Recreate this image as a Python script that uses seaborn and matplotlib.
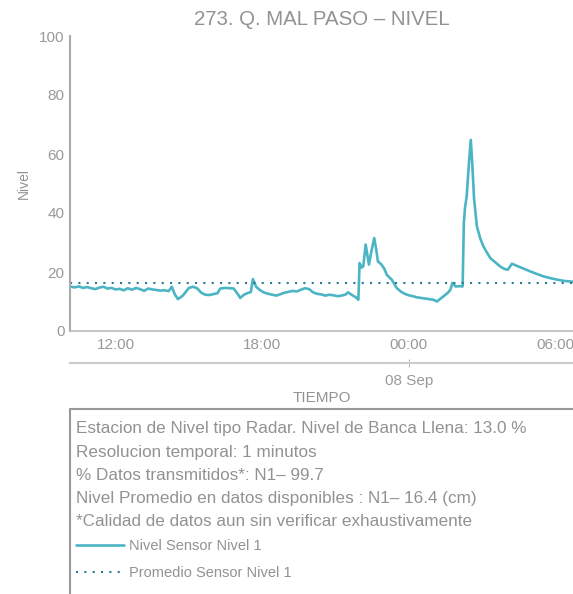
import pandas as pd
import seaborn as sns
import matplotlib.pyplot as plt
import matplotlib.dates as mdates
from matplotlib.patches import Rectangle

# Serie de nivel (hora local, sep 7 -> sep 8)
horas = [
    "2023-09-07 10:00", "2023-09-07 10:10", "2023-09-07 10:20", "2023-09-07 10:30", "2023-09-07 10:40",
    "2023-09-07 10:50", "2023-09-07 11:00", "2023-09-07 11:10", "2023-09-07 11:20", "2023-09-07 11:30",
    "2023-09-07 11:40", "2023-09-07 11:50", "2023-09-07 12:00", "2023-09-07 12:10", "2023-09-07 12:20",
    "2023-09-07 12:30", "2023-09-07 12:40", "2023-09-07 12:50", "2023-09-07 13:00", "2023-09-07 13:10",
    "2023-09-07 13:20", "2023-09-07 13:30", "2023-09-07 13:40", "2023-09-07 13:50", "2023-09-07 14:00",
    "2023-09-07 14:10", "2023-09-07 14:18", "2023-09-07 14:25", "2023-09-07 14:33", "2023-09-07 14:45",
    "2023-09-07 15:00", "2023-09-07 15:10", "2023-09-07 15:20", "2023-09-07 15:30", "2023-09-07 15:40",
    "2023-09-07 15:50", "2023-09-07 16:00", "2023-09-07 16:10", "2023-09-07 16:17", "2023-09-07 16:30",
    "2023-09-07 16:40", "2023-09-07 16:50", "2023-09-07 17:00", "2023-09-07 17:06", "2023-09-07 17:15",
    "2023-09-07 17:25", "2023-09-07 17:32", "2023-09-07 17:37", "2023-09-07 17:45", "2023-09-07 17:55",
    "2023-09-07 18:05", "2023-09-07 18:15", "2023-09-07 18:25", "2023-09-07 18:35", "2023-09-07 18:45",
    "2023-09-07 18:55", "2023-09-07 19:05", "2023-09-07 19:15", "2023-09-07 19:25", "2023-09-07 19:35",
    "2023-09-07 19:45", "2023-09-07 19:55", "2023-09-07 20:05", "2023-09-07 20:15", "2023-09-07 20:25",
    "2023-09-07 20:35", "2023-09-07 20:45", "2023-09-07 20:55", "2023-09-07 21:05", "2023-09-07 21:15",
    "2023-09-07 21:25", "2023-09-07 21:31", "2023-09-07 21:40", "2023-09-07 21:50", "2023-09-07 21:56",
    "2023-09-07 21:59", "2023-09-07 22:04", "2023-09-07 22:08", "2023-09-07 22:14", "2023-09-07 22:18",
    "2023-09-07 22:22", "2023-09-07 22:28", "2023-09-07 22:35", "2023-09-07 22:40", "2023-09-07 22:44",
    "2023-09-07 22:53", "2023-09-07 23:00", "2023-09-07 23:06", "2023-09-07 23:12", "2023-09-07 23:18",
    "2023-09-07 23:24", "2023-09-07 23:30", "2023-09-07 23:40", "2023-09-07 23:50", "2023-09-08 00:00",
    "2023-09-08 00:10", "2023-09-08 00:20", "2023-09-08 00:30", "2023-09-08 00:40", "2023-09-08 00:50",
    "2023-09-08 01:00", "2023-09-08 01:09", "2023-09-08 01:20", "2023-09-08 01:30", "2023-09-08 01:36",
    "2023-09-08 01:42", "2023-09-08 01:47", "2023-09-08 01:55", "2023-09-08 02:05", "2023-09-08 02:12",
    "2023-09-08 02:15", "2023-09-08 02:18", "2023-09-08 02:22", "2023-09-08 02:27", "2023-09-08 02:32",
    "2023-09-08 02:36", "2023-09-08 02:40", "2023-09-08 02:47", "2023-09-08 02:55", "2023-09-08 03:03",
    "2023-09-08 03:12", "2023-09-08 03:20", "2023-09-08 03:32", "2023-09-08 03:44", "2023-09-08 03:55",
    "2023-09-08 04:03", "2023-09-08 04:08", "2023-09-08 04:13", "2023-09-08 04:25", "2023-09-08 04:40",
    "2023-09-08 04:58", "2023-09-08 05:15", "2023-09-08 05:31", "2023-09-08 05:48", "2023-09-08 06:04",
    "2023-09-08 06:20", "2023-09-08 06:36", "2023-09-08 06:50",
]
nivel = [
    15.2, 15.0, 14.8, 15.1, 14.6,
    14.9, 14.5, 14.2, 14.7, 15.0,
    14.4, 14.6, 14.1, 14.3, 13.8,
    14.5, 14.0, 14.6, 14.2, 13.6,
    14.4, 14.1, 13.9, 13.7, 13.8,
    13.5, 15.0, 12.5, 10.8, 12.0,
    14.6, 15.0, 14.5, 13.0, 12.3,
    12.2, 12.5, 12.8, 14.4, 14.6,
    14.5, 14.4, 12.5, 11.2, 12.3,
    12.9, 13.2, 17.6, 15.0, 13.8,
    13.0, 12.6, 12.3, 12.0, 12.5,
    13.0, 13.3, 13.6, 13.4, 14.0,
    14.5, 14.2, 13.1, 12.6, 12.4,
    12.0, 12.3, 12.1, 11.8, 12.0,
    12.4, 13.1, 12.2, 11.4, 10.6,
    23.0, 21.5, 21.9, 29.3, 26.0,
    22.5, 27.0, 31.5, 27.5, 23.6,
    22.5, 21.0, 19.0, 18.2, 17.4,
    16.0, 14.6, 13.4, 12.6, 12.1,
    11.8, 11.4, 11.2, 11.0, 10.8,
    10.6, 10.0, 11.2, 12.3, 13.0,
    14.0, 16.3, 15.1, 15.2, 15.1,
    36.7, 42.0, 45.6, 56.0, 64.8,
    56.0, 45.0, 35.5, 31.5, 28.7,
    26.5, 24.7, 23.3, 21.9, 21.0,
    20.8, 21.8, 22.8, 22.1, 21.2,
    20.2, 19.3, 18.5, 17.9, 17.4,
    17.0, 16.8, 16.6,
]
promedio = 16.4

df = pd.DataFrame({"TIEMPO": pd.to_datetime(horas), "Nivel": nivel})

gris = "#929292"
teal = "#4bb5c4"

sns.set_style("white")
plt.rcParams["font.family"] = ["Liberation Sans", "DejaVu Sans"]

fig = plt.figure(figsize=(5.73, 5.94), dpi=100)
ax = fig.add_axes([70 / 573, 1 - 331 / 594, 1 - 70 / 573, (331 - 36) / 594])

sns.lineplot(data=df, x="TIEMPO", y="Nivel", ax=ax, color=teal, linewidth=1.9,
             label="Nivel Sensor Nivel 1", legend=False)
ax.axhline(promedio, color="#2c7a96", linewidth=1.5, linestyle=(0, (1, 3)),
           label="Promedio Sensor Nivel 1")

ax.set_ylim(0, 100)
ax.set_yticks([0, 20, 40, 60, 80, 100])
ax.set_xlim(pd.Timestamp("2023-09-07 10:08"), pd.Timestamp("2023-09-08 06:43"))
ax.xaxis.set_major_locator(mdates.HourLocator(byhour=[0, 6, 12, 18]))
ax.xaxis.set_major_formatter(mdates.DateFormatter("%H:%M"))

for s in ["top", "right"]:
    ax.spines[s].set_visible(False)
ax.spines["left"].set_color("#aaaaaa")
ax.spines["left"].set_linewidth(1.5)
ax.spines["bottom"].set_color("#bbbbbb")
ax.spines["bottom"].set_linewidth(1.2)
ax.tick_params(axis="both", direction="in", length=6, width=1, color="#aaaaaa",
               labelcolor="#999999", labelsize=11)
ax.tick_params(axis="y", pad=4)
ax.tick_params(axis="x", pad=5)
ax.set_xlabel("")
ax.set_ylabel("Nivel", color=gris, fontsize=10, labelpad=6)
ax.set_title("273. Q. MAL PASO \u2013 NIVEL", color=gris, fontsize=14.7, pad=8)

# eje secundario con la fecha
sec = ax.secondary_xaxis(-0.108)
sec.set_xticks([pd.Timestamp("2023-09-08 00:00")])
sec.set_xticklabels(["08 Sep"])
sec.spines["bottom"].set_color("#cccccc")
sec.spines["bottom"].set_linewidth(1.5)
sec.tick_params(direction="inout", length=6, color="#bbbbbb", labelcolor="#999999",
                labelsize=11, pad=5)
sec.set_xlabel("TIEMPO", color=gris, fontsize=11, labelpad=2)

# recuadro de informacion
fig.patches.append(Rectangle((70 / 573, -0.1), 1.0, 0.1 + (594 - 409) / 594,
                             transform=fig.transFigure, fill=False,
                             edgecolor="#999999", linewidth=1.5))
info = [
    "Estacion de Nivel tipo Radar. Nivel de Banca Llena: 13.0 %",
    "Resolucion temporal: 1 minutos",
    "% Datos transmitidos*: N1\u2013 99.7",
    "Nivel Promedio en datos disponibles : N1\u2013 16.4 (cm)",
    "*Calidad de datos aun sin verificar exhaustivamente",
]
for i, linea in enumerate(info):
    fig.text(76 / 573, 1 - (429 + 23 * i) / 594, linea, color=gris, fontsize=12.3, va="center")

h, l = ax.get_legend_handles_labels()
fig.legend(h, l, loc="upper left", bbox_to_anchor=(76 / 573, 1 - 539 / 594),
           frameon=False, fontsize=10.5, handlelength=3.3, handletextpad=0.35,
           labelspacing=0.92, borderpad=0, borderaxespad=0, labelcolor=gris)

fig.savefig("out.png", dpi=100)
